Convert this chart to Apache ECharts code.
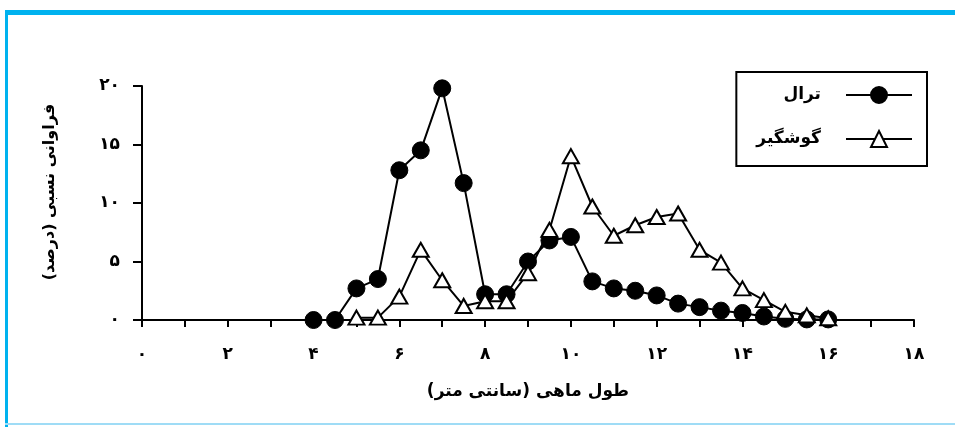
<!DOCTYPE html>
<html>
<head>
<meta charset="utf-8">
<script src="https://cdn.jsdelivr.net/npm/echarts@6/dist/echarts.min.js"></script>
<style>
  html, body { margin: 0; padding: 0; background: #fff; }
  #chart { width: 955px; height: 427px; }
</style>
</head>
<body>
<div id="chart"></div>
<script>
  // طول ماهی (سانتی متر)
  var trawlLength = [4, 4.5, 5, 5.5, 6, 6.5, 7, 7.5, 8, 8.5, 9, 9.5, 10, 10.5, 11, 11.5, 12, 12.5, 13, 13.5, 14, 14.5, 15, 15.5, 16]
  var trawlFreq = [0, 0, 2.7, 3.5, 12.8, 14.5, 19.8, 11.7, 2.2, 2.2, 5, 6.8, 7.1, 3.3, 2.7, 2.5, 2.1, 1.4, 1.1, 0.8, 0.6, 0.3, 0.1, 0.05, 0.05]

  var gillLength = [5, 5.5, 6, 6.5, 7, 7.5, 8, 8.5, 9, 9.5, 10, 10.5, 11, 11.5, 12, 12.5, 13, 13.5, 14, 14.5, 15, 15.5, 16]
  var gillFreq = [0.2, 0.2, 2.0, 6.0, 3.4, 1.2, 1.6, 1.6, 4.0, 7.7, 14.0, 9.7, 7.2, 8.1, 8.8, 9.1, 6.0, 4.9, 2.7, 1.7, 0.7, 0.4, 0.15]

  var seriesNames = ['ترال', 'گوشگیر']
  var faDigits = ['۰', '۱', '۲', '۳', '۴', '۵', '۶', '۷', '۸', '۹']

  function toFa(v) {
    return String(v).replace(/\d/g, function (d) { return faDigits[+d] })
  }
  function pairs(xs, ys) {
    return xs.map(function (x, i) { return [x, ys[i]] })
  }

  var font = 'DejaVu Sans'
  var chart = echarts.init(document.getElementById('chart'))

  var option = {
    backgroundColor: '#fff',
    animation: false,
    graphic: [
      { type: 'rect', shape: { x: 5, y: 10, width: 950, height: 5 }, style: { fill: '#00b2ef' } },
      { type: 'rect', shape: { x: 5, y: 10, width: 3, height: 417 }, style: { fill: '#00b2ef' } },
      { type: 'rect', shape: { x: 5, y: 423, width: 950, height: 2 }, style: { fill: '#9fdcf6' } }
    ],
    grid: { left: 142, right: 41, top: 86, bottom: 107 },
    legend: {
      orient: 'vertical',
      right: 28,
      top: 72,
      align: 'right',
      itemWidth: 66,
      itemHeight: 20,
      itemGap: 26,
      padding: [14, 14, 18, 20],
      borderColor: '#000',
      borderWidth: 2,
      data: seriesNames,
      textStyle: { fontFamily: font, fontSize: 17, fontWeight: 'bold', color: '#000', padding: [0, 20, 0, 0] }
    },
    xAxis: {
      type: 'value',
      min: 0,
      max: 18,
      interval: 2,
      name: 'طول ماهی (سانتی متر)',
      nameLocation: 'middle',
      nameGap: 63,
      nameTextStyle: { fontFamily: font, fontSize: 17, fontWeight: 'bold', color: '#000' },
      axisLine: { onZero: false, lineStyle: { color: '#000', width: 2 } },
      axisTick: { length: 7, lineStyle: { color: '#000', width: 2 } },
      minorTick: { show: true, splitNumber: 2, length: 7, lineStyle: { color: '#000', width: 2 } },
      axisLabel: {
        margin: 26,
        fontFamily: font, fontSize: 17, fontWeight: 'bold', color: '#000',
        formatter: function (v) { return toFa(v) }
      },
      splitLine: { show: false }
    },
    yAxis: {
      type: 'value',
      min: 0,
      max: 20,
      interval: 5,
      name: 'فراوانی نسبی (درصد)',
      nameLocation: 'middle',
      nameGap: 84,
      nameTextStyle: { fontFamily: font, fontSize: 16, fontWeight: 'bold', color: '#000', padding: [0, 0, 0, 22] },
      axisLine: { show: true, lineStyle: { color: '#000', width: 2 } },
      axisTick: { show: true, length: 9, lineStyle: { color: '#000', width: 2 } },
      axisLabel: {
        margin: 22,
        fontFamily: font, fontSize: 17, fontWeight: 'bold', color: '#000',
        formatter: function (v) { return toFa(v) }
      },
      splitLine: { show: false }
    },
    series: [
      {
        name: seriesNames[0],
        type: 'line',
        data: pairs(trawlLength, trawlFreq),
        symbol: 'circle',
        symbolSize: 17,
        lineStyle: { color: '#000', width: 2 },
        itemStyle: { color: '#000', borderColor: '#000', borderWidth: 1 },
        z: 2
      },
      {
        name: seriesNames[1],
        type: 'line',
        data: pairs(gillLength, gillFreq),
        symbol: 'triangle',
        symbolSize: [16, 14],
        lineStyle: { color: '#000', width: 2 },
        itemStyle: { color: '#fff', borderColor: '#000', borderWidth: 2 },
        z: 3
      }
    ]
  }

  chart.setOption(option)
</script>
</body>
</html>
